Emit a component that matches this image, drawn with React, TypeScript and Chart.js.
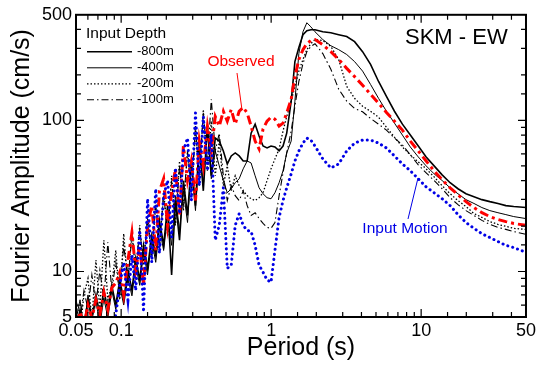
import React, { useEffect, useRef } from 'react';
import { Chart, registerables } from 'chart.js';

Chart.register(...registerables);

const FONT = '"Liberation Sans", Arial, Helvetica, sans-serif';

// Period grid (s)
const periods = [
  0.05, 0.0532, 0.0565, 0.0601, 0.0638, 0.0679, 0.0721, 0.0767, 0.0815, 0.0866,
  0.0921, 0.0979, 0.104, 0.111, 0.118, 0.125, 0.133, 0.141, 0.150, 0.160,
  0.170, 0.180, 0.192, 0.204, 0.217, 0.230, 0.245, 0.260, 0.277, 0.294,
  0.313, 0.332, 0.353, 0.376, 0.399, 0.424, 0.451, 0.480, 0.510, 0.542,
  0.576, 0.612, 0.651, 0.692, 0.735, 0.782, 0.831, 0.883, 0.939, 0.998,
  1.06, 1.13, 1.20, 1.27, 1.36, 1.44, 1.53, 1.63, 1.73, 1.84,
  1.96, 2.21, 2.50, 2.82, 3.19, 3.60, 4.07, 4.60, 5.20, 5.87,
  6.64, 7.50, 8.47, 9.57, 10.8, 12.2, 13.8, 15.6, 17.6, 19.9,
  22.5, 25.4, 28.7, 32.5, 36.7, 41.4, 50,
];

// Fourier amplitude (cm/s)
const depth800 = [
  4.1, 5.6, 4.4, 6.5, 4.8, 7.0, 5.2, 7.5, 5.6, 8.1,
  6.0, 8.8, 6.5, 10.2, 7.5, 12.2, 8.8, 14.9, 10.5, 17.3,
  12.8, 21.8, 14.9, 27.3, 9.5, 29.5, 16.1, 39.9, 23.5, 53.9,
  27.3, 73, 34.2, 91.7, 43.0, 76.4, 73, 62.8, 51.5, 58.2,
  60.9, 58.2, 53.9, 53.9, 82.4, 94.5, 78.8, 67.7, 65.7, 67.7,
  66.7, 62.8, 67.7, 82.4, 134, 245, 304, 369, 392, 398,
  398, 386, 380, 369, 359, 332, 285, 235, 181, 144,
  115, 94.5, 80, 67.7, 57.3, 50, 43.6, 38.7, 35.3, 32.7,
  31.3, 29.9, 29.0, 28.2, 27.3, 26.9, 26.5,
];

const depth400 = [
  4.8, 6.5, 4.1, 7.0, 4.9, 6.5, 4.4, 6.7, 4.9, 7.5,
  5.6, 8.0, 6.0, 9.0, 6.9, 11.0, 8.1, 13.4, 9.5, 16.1,
  11.5, 19.3, 13.8, 23.5, 14.9, 31.8, 18.7, 34.2, 21.1, 50.0,
  25.3, 62.8, 37.0, 85.1, 41.1, 62.8, 50.0, 40.0, 33.2, 35.3,
  38.7, 41.1, 47.8, 53.9, 52.3, 43.0, 35.8, 32.7, 30.8, 30.3,
  33.2, 38.7, 46.4, 60.9, 73, 134, 277, 386, 443, 416,
  386, 343, 312, 294, 273, 245, 212, 173, 140, 115,
  95.9, 80, 66.7, 57.3, 50.0, 44.3, 40.0, 35.8, 32.7, 29.9,
  28.2, 26.5, 25.3, 24.5, 23.8, 23.1, 22.4,
];

const depth200 = [
  6.0, 4.1, 7.0, 9.0, 4.8, 11.9, 5.6, 16.1, 6.5, 8.1,
  13.8, 6.5, 17.8, 8.1, 19.3, 9.5, 20.2, 11.0, 23.5, 11.9,
  29.5, 13.8, 34.2, 17.3, 43.0, 20.2, 53.9, 25.3, 62.8, 31.8,
  85.1, 37.0, 118, 46.4, 98.9, 43.0, 73, 37.0, 50.0, 34.2,
  43.0, 37.0, 34.2, 31.8, 30.3, 29.5, 30.8, 33.2, 40.0, 47.8,
  55.6, 64.7, 85.1, 106, 134, 168, 212, 253, 294, 322,
  343, 338, 309, 253, 168, 140, 124, 115, 105, 90.2,
  77.5, 66.7, 59.1, 53.1, 47.8, 42.3, 37.0, 32.7, 29.5, 26.9,
  24.2, 22.8, 21.4, 20.5, 19.9, 19.3, 19.0,
];

const depth100 = [
  6.5, 4.8, 7.5, 5.6, 9.5, 6.0, 10.2, 6.5, 15.6, 7.5,
  11.5, 7.0, 14.9, 8.8, 17.3, 10.2, 18.7, 11.5, 21.8, 12.8,
  27.3, 14.9, 31.8, 18.7, 40.0, 20.2, 50.0, 27.3, 62.8, 34.2,
  91.7, 43.0, 112, 53.9, 138, 62.8, 82.4, 43.0, 29.5, 37.0,
  31.8, 29.5, 34.2, 27.3, 23.5, 24.5, 22.4, 20.8, 19.6, 19.3,
  21.1, 31.8, 45.0, 60.9, 85.1, 124, 181, 238, 285, 309,
  322, 277, 218, 161, 134, 120, 114, 103, 94.5, 86.3,
  76.4, 68.8, 59.1, 50.8, 45.0, 40.0, 35.3, 30.8, 27.7, 25.3,
  23.5, 21.8, 20.5, 19.6, 19.0, 18.4, 17.6,
];

const observed = [
  4.1, 5.4, 4.4, 6.0, 4.9, 6.5, 5.2, 7.3, 5.6, 7.8,
  8.4, 9.9, 7.0, 11.9, 18.1, 10.2, 14.9, 8.1, 20.2, 27.3,
  13.8, 34.2, 41.1, 20.2, 33.2, 47.8, 23.5, 67.7, 40.0, 53.9,
  29.5, 73, 50.0, 91.7, 62.8, 106, 91.7, 115, 98.9, 118,
  94.5, 115, 122, 112, 91.7, 73, 64.7, 87.6, 98.9, 105,
  102, 91.7, 95.9, 112, 138, 195, 253, 294, 322, 338,
  343, 317, 285, 253, 221, 195, 171, 149, 130, 113,
  98.9, 86.3, 73, 62.8, 53.9, 46.4, 40.5, 35.8, 32.2, 29.0,
  26.5, 24.5, 23.1, 22.1, 21.4, 20.8, 20.2,
];

const inputMotion = [
  3.4, 3.8, 3.4, 4.1, 3.4, 3.8, 4.1, 3.4, 4.4, 3.8,
  5.2, 8.1, 11.5, 6.5, 12.8, 7.5, 18.7, 5.4, 30.3, 11.5,
  35.3, 13.2, 31.8, 40.0, 16.8, 48.5, 24.1, 62.8, 76.4, 29.5,
  112, 37.0, 106, 46.4, 81.2, 16.1, 20.2, 35.8, 10.5, 11.0,
  20.2, 24.1, 20.2, 18.7, 18.4, 14.9, 11.0, 9.9, 8.8, 8.5,
  13.8, 22.8, 29.5, 35.8, 44.3, 53.9, 62.8, 70.8, 76.4, 74.1,
  67.7, 55.6, 48.5, 51.5, 62.8, 70.8, 74.1, 74.1, 70.8, 65.7,
  58.2, 51.5, 46.4, 41.1, 36.3, 33.2, 30.3, 27.3, 23.8, 21.1,
  19.3, 17.8, 16.8, 15.8, 14.9, 14.4, 13.4,
];

const xTickLabels = [0.05, 0.1, 1, 10, 50];
const yTickLabels = [5, 10, 100, 500];
const legendTitle = 'Input Depth';
const legendNames = ['-800m', '-400m', '-200m', '-100m'];

const RED = '#ff0000';
const BLUE = '#0000e6';

const near = (a: number, b: number) => Math.abs(a - b) / b < 1e-6;
const isPow10 = (v: number) => {
  const l = Math.log10(v);
  return Math.abs(l - Math.round(l)) < 1e-6;
};

const decorPlugin = {
  id: 'decor',
  afterDraw(chart: any) {
    const { ctx, chartArea } = chart;
    const { left, right, top, bottom } = chartArea;
    const xs = chart.scales.x;
    const ys = chart.scales.y;
    ctx.save();

    // tick marks (inside, all four sides)
    ctx.strokeStyle = '#000';
    ctx.lineWidth = 1.2;
    ctx.setLineDash([]);
    ctx.beginPath();
    xs.ticks.forEach((t: any) => {
      const v = t.value;
      if (v <= xs.min * 1.0001 || v >= xs.max * 0.9999) return;
      const px = xs.getPixelForValue(v);
      const len = isPow10(v) ? 8 : 5;
      ctx.moveTo(px, bottom);
      ctx.lineTo(px, bottom - len);
      ctx.moveTo(px, top);
      ctx.lineTo(px, top + len);
    });
    ys.ticks.forEach((t: any) => {
      const v = t.value;
      if (v <= ys.min * 1.0001 || v >= ys.max * 0.9999) return;
      const py = ys.getPixelForValue(v);
      const len = isPow10(v) ? 8 : 5;
      ctx.moveTo(left, py);
      ctx.lineTo(left + len, py);
      ctx.moveTo(right, py);
      ctx.lineTo(right - len, py);
    });
    ctx.stroke();

    // frame
    ctx.lineWidth = 2;
    ctx.strokeRect(left, top, right - left, bottom - top);

    // legend
    const ds = chart.data.datasets;
    ctx.fillStyle = '#000';
    ctx.textBaseline = 'middle';
    ctx.textAlign = 'left';
    ctx.font = `15.5px ${FONT}`;
    ctx.fillText(legendTitle, left + 10, top + 19);
    ctx.font = `13px ${FONT}`;
    legendNames.forEach((name, i) => {
      const y = top + 37 + i * 16;
      const d = ds[i];
      ctx.beginPath();
      ctx.strokeStyle = d.borderColor;
      ctx.lineWidth = d.borderWidth;
      ctx.setLineDash(d.borderDash || []);
      ctx.moveTo(left + 11, y);
      ctx.lineTo(left + 56, y);
      ctx.stroke();
      ctx.setLineDash([]);
      ctx.fillText(name, left + 61, y);
    });

    // station label
    ctx.font = `22px ${FONT}`;
    ctx.fillText('SKM - EW', 405, top + 23);

    // annotation: Observed
    ctx.fillStyle = RED;
    ctx.strokeStyle = RED;
    ctx.lineWidth = 1;
    ctx.font = `15.5px ${FONT}`;
    ctx.textAlign = 'center';
    ctx.fillText('Observed', 241, 62);
    ctx.beginPath();
    ctx.moveTo(237, 73);
    ctx.lineTo(242, 110);
    ctx.stroke();

    // annotation: Input Motion
    ctx.fillStyle = BLUE;
    ctx.strokeStyle = BLUE;
    ctx.fillText('Input Motion', 405, 229);
    ctx.beginPath();
    ctx.moveTo(408, 219);
    ctx.lineTo(418, 178);
    ctx.stroke();

    ctx.restore();
  },
};

export default function App() {
  const ref = useRef<HTMLCanvasElement | null>(null);

  useEffect(() => {
    if (!ref.current) return;
    const mk = (vals: number[]) => periods.map((p, i) => ({ x: p, y: vals[i] }));
    const base = { pointRadius: 0, fill: false, tension: 0 };
    const chart = new Chart(ref.current, {
      type: 'line',
      data: {
        datasets: [
          { ...base, label: '-800m', data: mk(depth800), borderColor: '#000', borderWidth: 1.6, order: 2 },
          { ...base, label: '-400m', data: mk(depth400), borderColor: '#000', borderWidth: 1, order: 3 },
          { ...base, label: '-200m', data: mk(depth200), borderColor: '#000', borderWidth: 1.3, borderDash: [1.5, 2], order: 4 },
          { ...base, label: '-100m', data: mk(depth100), borderColor: '#000', borderWidth: 1.1, borderDash: [7, 3, 1.5, 3], order: 5 },
          { ...base, label: 'Observed', data: mk(observed), borderColor: RED, borderWidth: 3, borderDash: [9, 4, 3, 4], order: 1 },
          { ...base, label: 'Input Motion', data: mk(inputMotion), borderColor: BLUE, borderWidth: 3, borderDash: [0.1, 5], borderCapStyle: 'round', order: 0 },
        ] as any,
      },
      options: {
        responsive: false,
        animation: false,
        events: [],
        layout: { padding: { top: 13, right: 11, left: 0, bottom: 0 } },
        plugins: { legend: { display: false }, tooltip: { enabled: false } },
        scales: {
          x: {
            type: 'logarithmic',
            min: 0.05,
            max: 50,
            grid: { display: false, drawTicks: false },
            border: { display: false },
            ticks: {
              autoSkip: false,
              maxRotation: 0,
              minRotation: 0,
              padding: 3,
              color: '#000',
              font: { family: FONT, size: 18 },
              callback: (v: any) => {
                const m = xTickLabels.find((t) => near(Number(v), t));
                return m === undefined ? '' : String(m);
              },
            },
            title: {
              display: true,
              text: 'Period (s)',
              color: '#000',
              font: { family: FONT, size: 25 },
              padding: { top: 0, bottom: 7 },
            },
            afterFit: (s: any) => {
              s.height = 53;
            },
          },
          y: {
            type: 'logarithmic',
            min: 5,
            max: 500,
            grid: { display: false, drawTicks: false },
            border: { display: false },
            ticks: {
              autoSkip: false,
              padding: 4,
              color: '#000',
              font: { family: FONT, size: 18 },
              callback: (v: any) => {
                const m = yTickLabels.find((t) => near(Number(v), t));
                return m === undefined ? '' : String(m);
              },
            },
            title: {
              display: true,
              text: 'Fourier Amplitude (cm/s)',
              color: '#000',
              font: { family: FONT, size: 25 },
              padding: { top: 7, bottom: 0 },
            },
            afterFit: (s: any) => {
              s.width = 76;
            },
          },
        },
      } as any,
      plugins: [decorPlugin],
    });
    return () => chart.destroy();
  }, []);

  return (
    <div style={{ position: 'absolute', left: 0, top: 0, width: 539, height: 370, background: '#fff' }}>
      <canvas ref={ref} width={539} height={370} style={{ display: 'block' }} />
    </div>
  );
}
